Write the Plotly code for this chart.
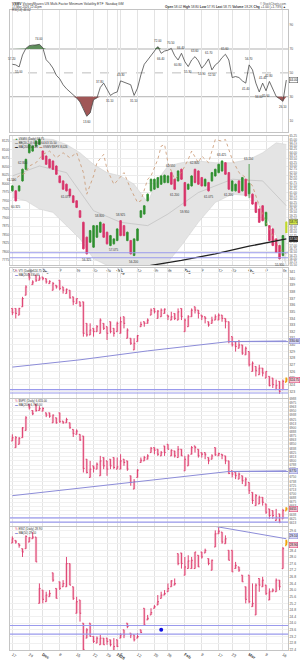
import plotly.graph_objects as go
import pandas as pd

H = 661
FONT = "Liberation Sans, Arial, sans-serif"

# ---------------- calendar / ticks ----------------
holidays = ["2025-11-27", "2025-12-25", "2026-01-01", "2026-01-19", "2026-02-16"]
dates = [d.strftime("%Y-%m-%d") for d in pd.bdate_range("2025-11-17", "2026-03-17")
         if d.strftime("%Y-%m-%d") not in holidays]
n = len(dates)
idx = list(range(n))

tick_dates = ["2025-11-17", "2025-11-24", "2025-12-01", "2025-12-08", "2025-12-15", "2025-12-22",
              "2025-12-29", "2026-01-02", "2026-01-05", "2026-01-12", "2026-01-20", "2026-01-26",
              "2026-02-02", "2026-02-09", "2026-02-17", "2026-02-23", "2026-03-02", "2026-03-09",
              "2026-03-16"]
tick_labels = ["17", "24", "<b>Dec</b>", "8", "15", "22", "29", "<b>2026</b>", "5", "12", "20", "26",
               "<b>Feb</b>", "9", "17", "23", "<b>Mar</b>", "9", "16"]
tickvals = [dates.index(d) for d in tick_dates]

# ---------------- panel 1: RSI(14) ----------------
rsi = [57.2, 56.7, 55, 65, 70.5, 72.8, 73.3, 73.3, 74, 71,
       61, 58, 54, 48, 45, 40, 36.7, 34.4, 31.7, 29,
       25.6, 20, 13.6, 16.4, 27.5, 29, 37.8, 41.4, 35.8, 31.1,
       33, 34, 43.3, 42.2, 41.4, 40, 31.1, 37.2, 48.3, 57.2,
       60.8, 64.4, 67.8, 72, 66.4, 68.3, 69, 70.5, 64.4, 60.8,
       66.4, 59.4, 55.3, 60.8, 63.6, 60, 53.9, 57.2, 61.7, 52.5,
       56.7, 58.9, 62.8, 65.6, 60.8, 46.1, 46.9, 46.1, 43.3, 41.4,
       56.7, 52.5, 41.4, 34, 41.4, 35, 42.8, 36.7, 30.3, 28.3,
       26.1, 44.0]
rsi_peaks = [0, 8, 26, 32, 43, 47, 50, 54, 58, 63, 70, 74, 76]
rsi_troughs = [2, 22, 29, 36, 44, 49, 52, 56, 59, 69, 73, 75, 80]

# ---------------- panel 2: main price ----------------
p2_open = [61.125, 61.125, 61.125, 61.875, 62.75, 64.0, 64.125, 64.5, 64.625, 64.125,
           63.75, 63.5, 63.375, 63.0, 62.25, 61.875, 61.625, 61.25, 60.75, 60.375,
           59.625, 58.75, 57.625, 57.25, 56.875, 57.625, 58.0, 58.625, 58.0, 57.0,
           57.125, 57.375, 58.875, 58.5, 57.375, 57.375, 56.25, 57.375, 59.125, 59.375,
           60.375, 61.125, 61.25, 61.375, 61.625, 61.75, 61.75, 62.5, 62.0, 61.875,
           62.75, 61.75, 61.25, 61.5, 62.75, 62.625, 62.125, 61.5, 61.75, 61.875,
           62.25, 62.5, 62.625, 63.25, 62.5, 61.125, 61.125, 61.875, 61.125, 62.0,
           60.9, 60.875, 60.25, 59.75, 60.0, 58.5, 58.5, 58.25, 57.5, 57.0,
           56.25, 58.0]
p2_close = [61.5, 60.375, 61.5, 62.75, 63.5, 64.625, 64.5, 64.875, 65.0, 63.5,
            63.125, 62.875, 62.75, 62.375, 61.75, 61.25, 61.125, 60.75, 60.25, 59.875,
            59.125, 56.75, 56.375, 58.125, 58.5, 58.5, 58.75, 57.625, 57.125, 57.75,
            57.5, 58.25, 57.75, 57.75, 58.0, 56.375, 57.5, 58.25, 59.625, 60.0,
            60.875, 62.0, 62.0, 62.125, 62.25, 62.3, 62.25, 61.625, 61.25, 62.625,
            62.0, 60.0, 61.625, 62.25, 61.75, 61.625, 61.5, 62.0, 61.125, 62.5,
            62.75, 63.125, 63.375, 62.375, 61.25, 61.875, 61.625, 61.0, 62.125, 60.75,
            61.7, 60.125, 59.5, 58.75, 58.875, 59.5, 57.375, 57.0, 56.5, 56.0,
            57.75, 58.75]
p2_high = [61.55, 61.175, 61.55, 62.8, 63.55, 64.675, 64.55, 64.925, 65.05, 64.175,
           63.8, 63.55, 63.425, 63.05, 62.3, 61.925, 61.675, 61.3, 60.8, 60.425,
           59.675, 58.8, 57.675, 58.175, 58.55, 58.55, 58.8, 58.675, 58.05, 57.8,
           57.55, 58.3, 58.925, 58.55, 58.05, 57.425, 57.55, 58.3, 59.675, 60.05,
           60.925, 62.05, 62.05, 62.175, 62.3, 62.35, 62.3, 62.55, 62.05, 62.675,
           62.8, 61.8, 61.675, 62.3, 62.8, 62.675, 62.175, 62.05, 61.8, 62.55,
           62.8, 63.175, 63.425, 63.3, 62.55, 61.925, 61.675, 61.925, 62.175, 62.05,
           63.15, 60.925, 60.3, 59.8, 60.05, 59.55, 58.55, 58.3, 57.55, 57.05,
           57.8, 58.8]
p2_low = [61.075, 60.325, 61.075, 61.825, 62.7, 63.95, 64.075, 64.45, 64.575, 63.45,
          63.075, 62.825, 62.7, 62.325, 61.7, 61.2, 61.075, 60.7, 60.2, 59.825,
          59.075, 56.7, 56.325, 57.2, 56.825, 57.575, 57.95, 57.575, 57.075, 56.95,
          57.075, 57.325, 57.7, 57.7, 57.325, 56.325, 56.2, 57.325, 59.075, 59.325,
          60.325, 61.075, 61.2, 61.325, 61.575, 61.7, 61.7, 61.575, 61.2, 61.825,
          61.95, 59.95, 61.2, 61.45, 61.7, 61.575, 61.45, 61.45, 61.075, 61.825,
          62.2, 62.45, 62.575, 62.325, 61.2, 61.075, 61.075, 60.95, 61.075, 60.7,
          60.575, 60.075, 59.45, 58.7, 58.825, 58.45, 57.325, 56.95, 56.45, 55.95,
          56.2, 57.95]
p2_peaks = [0, 3, 26, 32, 47, 54, 62, 70]
p2_troughs = [1, 16, 22, 30, 36, 48, 51, 58, 64, 79]

bb_idx = [0, 4, 8, 12, 16, 20, 24, 28, 32, 36, 40, 43, 46, 50, 55, 60, 65, 70, 74, 78, 81]
bb_upper = [65.0, 65.05, 65.075, 65.0, 64.625, 64.0, 63.125, 62.5, 62.25, 61.625, 60.25,
            62.0, 63.0, 63.25, 63.375, 63.25, 63.25, 63.5, 64.0, 64.75, 64.625]
bb_lower = [60.625, 60.375, 59.75, 59.5, 58.5, 57.5, 56.0, 55.5, 55.375, 55.375, 55.25,
            55.25, 55.75, 57.0, 58.75, 60.25, 60.875, 60.75, 59.75, 57.75, 55.5]
mid_idx = [0, 8, 16, 24, 32, 40, 46, 55, 65, 74, 81]
mid_vals = [62.25, 63.0, 62.5, 59.625, 58.75, 58.5, 59.375, 61.0, 62.0, 61.875, 60.0]
br_idx = [0, 2, 4, 5, 7, 9, 11, 13, 15, 17, 19, 21, 22, 24, 25, 27, 28, 30, 31, 33,
          35, 37, 38, 40, 41, 43, 44, 45, 46, 48, 50, 52, 53, 55, 56, 58, 60, 62, 63, 65,
          67, 69, 71, 73, 75, 77, 79, 81]
br_vals = [61.875, 62.25, 62.5, 63.0, 63.25, 63.875, 64.125, 63.625, 64.0, 63.625,
           64.0, 62.5, 60.875, 62.25, 63.25, 63.875, 62.75, 61.625, 61.875, 62.5,
           61.25, 60.25, 60.375, 62.0, 62.25, 63.5, 64.5, 64.625, 63.25, 62.0,
           62.5, 63.5, 64.125, 63.25, 63.75, 63.25, 65.0, 64.875, 65.0, 63.5,
           62.5, 62.125, 61.5, 60.0, 58.75, 57.75, 56.75, 56.375]
ma2_idx = [38, 41, 50, 60, 70, 81]
ma2_vals = [55.3, 55.5, 55.875, 56.375, 56.95, 57.5]
p2_levels = [56.45, 56.08]

# ---------------- panel 3 ----------------
p3_open = [335.5, 335.5, 334.5, 335.75, 337.5, 340.75, 339.1, 340.5, 339.75, 340.25,
           340.0, 339.25, 338.25, 339.0, 339.75, 338.75, 337.75, 338.25, 337.25, 336.25,
           336.5, 336.5, 333.25, 331.5, 332.5, 332.0, 331.75, 333.25, 332.75, 333.5,
           332.5, 332.0, 331.75, 334.25, 331.0, 331.0, 329.25, 330.5, 332.75, 333.5,
           333.25, 334.5, 335.5, 334.0, 334.25, 334.75, 334.5, 333.75, 334.75, 333.75,
           335.5, 332.0, 332.75, 334.25, 335.75, 335.25, 334.5, 334.25, 333.5, 333.25,
           333.75, 333.75, 334.5, 334.0, 333.5, 331.25, 330.5, 329.5, 330.0, 328.5,
           329.0, 326.0, 326.75, 325.5, 326.5, 325.0, 325.25, 325.0, 323.25, 324.5,
           323.25, 324.4]
p3_high = [335.5, 335.5, 335.6, 337.25, 339.0, 340.75, 339.75, 340.5, 340.5, 340.25,
           340.0, 339.75, 339.5, 339.0, 339.75, 338.75, 338.5, 338.25, 337.25, 337.0,
           336.5, 336.5, 333.25, 333.25, 332.5, 333.0, 334.0, 333.25, 332.75, 333.5,
           332.5, 333.5, 334.25, 334.25, 332.5, 331.0, 331.0, 331.5, 333.5, 333.5,
           334.0, 335.5, 335.5, 335.25, 335.5, 335.5, 334.5, 335.0, 334.75, 335.5,
           335.5, 334.0, 334.5, 335.5, 335.75, 335.25, 334.5, 334.25, 333.5, 334.25,
           334.6, 334.75, 334.5, 334.0, 333.5, 331.25, 330.5, 330.75, 330.0, 329.75,
           329.0, 327.5, 326.75, 327.0, 326.5, 326.0, 325.25, 325.0, 324.75, 324.5,
           324.75, 325.1]
p3_low = [334.5, 334.0, 334.5, 335.75, 337.5, 339.75, 339.1, 339.5, 339.75, 339.75,
          339.25, 339.25, 338.25, 338.5, 338.25, 337.75, 337.75, 337.0, 336.0, 336.25,
          335.75, 331.25, 331.25, 331.5, 331.25, 332.0, 331.75, 332.25, 330.75, 331.75,
          331.25, 332.0, 331.75, 332.5, 331.0, 330.0, 329.25, 330.5, 332.75, 332.75,
          333.25, 334.5, 334.75, 334.0, 334.25, 334.75, 333.75, 333.75, 333.75, 333.75,
          333.75, 332.0, 332.75, 334.25, 334.75, 334.0, 333.75, 333.25, 332.75, 333.25,
          333.75, 333.75, 333.5, 332.5, 330.25, 329.75, 329.0, 329.5, 328.5, 328.5,
          326.75, 326.0, 325.25, 325.5, 325.25, 325.0, 323.75, 323.5, 323.25, 322.6,
          323.25, 324.4]
p3_close = [334.85, 334.75, 335.5, 337.0, 338.75, 340.1, 339.5, 339.75, 340.1, 340.0,
            339.5, 339.6, 339.25, 338.75, 338.5, 338.25, 338.4, 337.1, 336.5, 337.0,
            335.9, 331.75, 331.5, 332.25, 332.0, 332.75, 333.75, 332.5, 331.75, 332.0,
            331.75, 333.25, 333.5, 333.25, 332.25, 330.25, 330.25, 331.4, 333.1, 333.25,
            333.75, 335.25, 335.0, 335.1, 335.25, 335.4, 334.25, 334.25, 334.0, 335.0,
            334.25, 333.75, 334.25, 335.25, 335.25, 334.75, 334.25, 334.0, 333.0, 333.75,
            334.25, 334.5, 334.0, 333.5, 330.5, 330.0, 329.75, 330.0, 328.75, 329.5,
            327.0, 327.25, 326.1, 326.5, 325.75, 326.0, 323.85, 324.0, 323.9, 323.0,
            324.5, 324.75]
ma3_idx = [0, 20, 40, 64, 81]
ma3_vals = [326.65, 327.75, 329.1, 330.5, 330.6]
p3_levels = [323.25, 322.75]

# ---------------- panel 4 ----------------
p4_open = [6860, 6840, 6850, 6870, 6892, 6970, 6952, 6970, 6952, 6950,
           6945, 6945, 6915, 6930, 6945, 6920, 6915, 6915, 6895, 6880,
           6880, 6875, 6805, 6750, 6785, 6775, 6755, 6810, 6800, 6805,
           6810, 6775, 6775, 6805, 6800, 6755, 6715, 6750, 6795, 6800,
           6805, 6825, 6840, 6835, 6815, 6845, 6850, 6815, 6830, 6810,
           6835, 6770, 6785, 6820, 6845, 6835, 6825, 6825, 6810, 6805,
           6840, 6815, 6820, 6815, 6800, 6770, 6765, 6745, 6755, 6725,
           6735, 6705, 6665, 6670, 6690, 6670, 6655, 6650, 6620, 6640,
           6625, 6650]
p4_high = [6880, 6875, 6872, 6902, 6935, 6970, 6952, 6970, 6965, 6962,
           6945, 6945, 6940, 6930, 6945, 6920, 6930, 6915, 6895, 6895,
           6880, 6875, 6805, 6800, 6785, 6795, 6815, 6810, 6800, 6805,
           6810, 6810, 6820, 6805, 6800, 6755, 6745, 6775, 6810, 6815,
           6820, 6842, 6840, 6835, 6830, 6845, 6850, 6835, 6830, 6845,
           6835, 6815, 6820, 6845, 6845, 6835, 6825, 6825, 6810, 6820,
           6840, 6825, 6820, 6815, 6800, 6770, 6765, 6765, 6755, 6750,
           6735, 6705, 6700, 6695, 6690, 6670, 6655, 6650, 6655, 6640,
           6655, 6660]
p4_low = [6860, 6840, 6850, 6870, 6892, 6955, 6938, 6948, 6952, 6950,
          6932, 6930, 6915, 6912, 6915, 6912, 6915, 6897, 6872, 6880,
          6860, 6765, 6762, 6750, 6765, 6775, 6755, 6775, 6755, 6775,
          6775, 6775, 6775, 6785, 6770, 6725, 6715, 6750, 6795, 6800,
          6805, 6825, 6820, 6815, 6815, 6815, 6835, 6815, 6810, 6810,
          6815, 6770, 6785, 6820, 6825, 6810, 6810, 6805, 6790, 6805,
          6815, 6815, 6805, 6790, 6760, 6750, 6745, 6745, 6730, 6725,
          6700, 6670, 6665, 6670, 6665, 6640, 6625, 6625, 6620, 6612,
          6625, 6650]
p4_close = [6870, 6870, 6868, 6900, 6930, 6960, 6942, 6952, 6958, 6958,
            6938, 6935, 6938, 6915, 6918, 6915, 6925, 6900, 6882, 6890,
            6863, 6777, 6765, 6775, 6778, 6790, 6800, 6785, 6775, 6785,
            6780, 6782, 6800, 6795, 6775, 6735, 6738, 6772, 6802, 6810,
            6815, 6838, 6832, 6820, 6825, 6825, 6835, 6832, 6815, 6835,
            6815, 6805, 6815, 6840, 6840, 6815, 6820, 6818, 6800, 6815,
            6818, 6822, 6817, 6800, 6762, 6760, 6755, 6760, 6740, 6745,
            6710, 6680, 6695, 6690, 6675, 6645, 6635, 6635, 6630, 6615,
            6650, 6655]
ma4_idx = [0, 20, 40, 64, 81]
ma4_vals = [6695, 6718, 6742, 6768, 6770]
p4_levels = [6628, 6615]

# ---------------- panel 5 ----------------
p5_open = [28.84, 29.0, 28.8, 28.5, 28.5, 28.9, 29.1, 29.2, 25.2, 26.0,
           25.3, 25.6, 27.04, 26.1, 26.5, 26.2, 26.2, 27.6, 26.2, 24.6,
           25.4, 24.0, 23.1, 24.0, 23.2, 22.8, 22.7, 23.1, 23.1, 23.0,
           22.3, 23.0, 23.1, 23.6, 24.0, 23.4, 23.3, 23.1, 23.6, 24.9,
           24.2, 24.5, 24.9, 25.1, 25.5, 25.7, 25.9, 26.2, 26.3, 28.2,
           28.24, 26.9, 27.3, 27.3, 27.3, 28.1, 28.3, 28.24, 27.9, 27.2,
           28.6, 29.4, 29.5, 28.8, 28.4, 28.4, 27.3, 27.4, 26.9, 26.2,
           26.9, 25.0, 24.5, 26.7, 26.2, 26.3, 25.4, 25.9, 25.9, 26.6,
           27.3, 28.7]
p5_high = [29.24, 29.0, 28.8, 28.5, 29.3, 29.2, 29.5, 29.2, 26.4, 26.0,
           25.9, 26.0, 27.04, 26.1, 26.5, 26.6, 28.0, 27.6, 26.2, 25.6,
           25.4, 24.0, 23.7, 24.0, 23.2, 23.2, 23.3, 23.1, 23.1, 23.0,
           23.1, 23.0, 23.4, 23.6, 24.0, 23.4, 23.3, 23.4, 23.6, 24.9,
           24.5, 24.9, 25.1, 25.7, 25.9, 26.0, 26.4, 26.6, 26.7, 28.2,
           28.24, 28.0, 28.1, 28.0, 28.3, 28.1, 28.3, 28.5, 27.9, 27.84,
           29.6, 29.8, 29.5, 29.3, 28.4, 28.4, 27.7, 27.4, 26.9, 26.2,
           26.9, 26.4, 26.4, 26.7, 26.8, 26.3, 26.1, 26.1, 26.7, 26.6,
           28.6, 29.04]
p5_low = [28.84, 28.8, 28.56, 28.0, 28.5, 28.9, 29.1, 27.7, 25.2, 25.2,
          25.3, 25.6, 26.5, 25.5, 26.0, 26.2, 26.2, 26.3, 25.4, 24.6,
          24.1, 22.2, 23.1, 23.2, 22.8, 22.8, 22.7, 22.7, 22.7, 22.6,
          22.3, 22.56, 23.1, 23.1, 23.7, 23.1, 22.9, 23.1, 23.4, 23.9,
          24.2, 24.5, 24.9, 25.1, 25.5, 25.7, 25.9, 26.2, 26.3, 27.5,
          27.3, 26.9, 27.3, 27.3, 27.3, 27.4, 27.9, 28.24, 27.5, 27.2,
          28.6, 29.4, 28.8, 28.8, 27.8, 27.1, 27.3, 27.1, 26.5, 25.2,
          25.2, 25.0, 24.5, 25.9, 26.2, 25.7, 25.4, 25.9, 25.9, 26.0,
          27.3, 28.7]
p5_close = [29.1, 28.9, 28.7, 28.3, 29.24, 29.16, 29.2, 27.7, 26.1, 25.44,
            25.7, 25.8, 26.6, 25.5, 26.1, 26.4, 27.6, 26.3, 25.5, 25.3,
            24.6, 22.4, 23.6, 23.2, 22.9, 23.1, 23.1, 22.7, 22.9, 22.7,
            22.6, 22.6, 23.3, 23.3, 23.8, 23.3, 23.0, 23.2, 23.44, 23.9,
            24.3, 24.64, 25.0, 25.3, 25.7, 25.8, 26.1, 26.56, 26.4, 27.6,
            27.6, 27.4, 27.76, 27.8, 28.3, 27.4, 28.0, 28.4, 27.6, 27.8,
            29.4, 29.56, 28.9, 29.1, 27.8, 27.1, 27.5, 27.2, 26.5, 25.44,
            25.3, 25.2, 26.3, 26.3, 26.6, 25.8, 25.9, 26.0, 26.6, 26.2,
            28.5, 28.9]
ma5_idx = [57, 60, 70, 81]
ma5_vals = [29.95, 29.84, 29.5, 29.1]
p5_levels = [23.86, 23.34]
p5_dot_idx = [44]
p5_dot_val = [23.6]

# ---------------- styles ----------------
GREEN = "#2f8f2f"
RED = "#d8336a"
PINK_LINE = "#dc3a6c"
PINK_BODY = "#f4bccb"
BLUE = "#9a9aec"
MA_BLUE = "#8c8cd8"
LAST_ORANGE = "#f0a30a"
P2_RANGE = [55.5, 65.25]


def ypx(px):
    return 1 - px / H


domains = {1: (8, 131), 2: (135, 265), 3: (268, 398), 4: (399, 527), 5: (528, 652)}

fig = go.Figure()

# ---- Panel 1 ----
fig.add_trace(go.Scatter(x=idx, y=[70] * n, mode="lines", line=dict(width=0),
                         xaxis="x", yaxis="y", hoverinfo="skip", showlegend=False))
fig.add_trace(go.Scatter(x=idx, y=[max(v, 70) for v in rsi], mode="lines", line=dict(width=0),
                         fill="tonexty", fillcolor="#5f8f5c", xaxis="x", yaxis="y",
                         hoverinfo="skip", showlegend=False))
fig.add_trace(go.Scatter(x=idx, y=[30] * n, mode="lines", line=dict(width=0),
                         xaxis="x", yaxis="y", hoverinfo="skip", showlegend=False))
fig.add_trace(go.Scatter(x=idx, y=[min(v, 30) for v in rsi], mode="lines", line=dict(width=0),
                         fill="tonexty", fillcolor="#a05656", xaxis="x", yaxis="y",
                         hoverinfo="skip", showlegend=False))
fig.add_trace(go.Scatter(x=idx, y=rsi, mode="lines", line=dict(color="#4a4a4a", width=0.8),
                         xaxis="x", yaxis="y", showlegend=False))

# ---- Panel 2 (band on base axis y2, marks on overlay y7 so they sit on top) ----
fig.add_trace(go.Scatter(x=bb_idx, y=bb_lower, mode="lines", line=dict(color="#cfcfcf", width=0.5),
                         xaxis="x2", yaxis="y2", showlegend=False, hoverinfo="skip"))
fig.add_trace(go.Scatter(x=bb_idx, y=bb_upper, mode="lines", line=dict(color="#cfcfcf", width=0.5),
                         fill="tonexty", fillcolor="#e4e4e4",
                         xaxis="x2", yaxis="y2", showlegend=False, hoverinfo="skip"))
fig.add_trace(go.Scatter(x=mid_idx, y=mid_vals, mode="lines", line=dict(color="#b8b8b8", width=0.6),
                         xaxis="x2", yaxis="y2", showlegend=False, hoverinfo="skip"))
# invisible trace for the left scale of panel 2
fig.add_trace(go.Scatter(x=[0], y=[7950], mode="markers", marker=dict(opacity=0),
                         xaxis="x2", yaxis="y6", showlegend=False, hoverinfo="skip"))
fig.add_trace(go.Scatter(x=br_idx, y=br_vals, mode="lines",
                         line=dict(color="#c9966f", width=0.8, dash="dot"),
                         xaxis="x2", yaxis="y7", showlegend=False, hoverinfo="skip"))
fig.add_trace(go.Scatter(x=ma2_idx, y=ma2_vals, mode="lines", line=dict(color="#222222", width=1.3),
                         xaxis="x2", yaxis="y7", showlegend=False, hoverinfo="skip"))
fig.add_trace(go.Candlestick(x=idx, open=p2_open[:-1] + [None], high=p2_high[:-1] + [None],
                             low=p2_low[:-1] + [None], close=p2_close[:-1] + [None],
                             xaxis="x2", yaxis="y7", whiskerwidth=0,
                             increasing=dict(line=dict(color=GREEN, width=0.8), fillcolor=GREEN),
                             decreasing=dict(line=dict(color=RED, width=0.8), fillcolor=RED),
                             showlegend=False, hoverinfo="skip"))
fig.add_trace(go.Ohlc(x=idx[-1:], open=p2_open[-1:], high=p2_high[-1:], low=p2_low[-1:],
                      close=p2_close[-1:], xaxis="x2", yaxis="y7", tickwidth=0.2,
                      increasing=dict(line=dict(color="#c2d92a", width=2.2)),
                      decreasing=dict(line=dict(color="#c2d92a", width=2.2)),
                      showlegend=False, hoverinfo="skip"))


def pink_panel(k, o, h, l, c, ma_idx, ma_vals):
    xa, ya = f"x{k}", f"y{k}"
    fig.add_trace(go.Scatter(x=ma_idx, y=ma_vals, mode="lines", line=dict(color=MA_BLUE, width=1),
                             xaxis=xa, yaxis=ya, showlegend=False, hoverinfo="skip"))
    fig.add_trace(go.Candlestick(x=idx[:-1], open=o[:-1], high=h[:-1], low=l[:-1], close=c[:-1],
                                 xaxis=xa, yaxis=ya, whiskerwidth=0,
                                 increasing=dict(line=dict(color=PINK_BODY, width=0.5), fillcolor=PINK_BODY),
                                 decreasing=dict(line=dict(color=PINK_BODY, width=0.5), fillcolor=PINK_BODY),
                                 showlegend=False, hoverinfo="skip"))
    fig.add_trace(go.Ohlc(x=idx[:-1], open=o[:-1], high=h[:-1], low=l[:-1], close=c[:-1],
                          xaxis=xa, yaxis=ya, tickwidth=0.35,
                          increasing=dict(line=dict(color=PINK_LINE, width=0.9)),
                          decreasing=dict(line=dict(color=PINK_LINE, width=0.9)),
                          showlegend=False, hoverinfo="skip"))
    fig.add_trace(go.Ohlc(x=idx[-1:], open=o[-1:], high=h[-1:], low=l[-1:], close=c[-1:],
                          xaxis=xa, yaxis=ya, tickwidth=0.35,
                          increasing=dict(line=dict(color=LAST_ORANGE, width=1.8)),
                          decreasing=dict(line=dict(color=LAST_ORANGE, width=1.8)),
                          showlegend=False, hoverinfo="skip"))


pink_panel(3, p3_open, p3_high, p3_low, p3_close, ma3_idx, ma3_vals)
pink_panel(4, p4_open, p4_high, p4_low, p4_close, ma4_idx, ma4_vals)
pink_panel(5, p5_open, p5_high, p5_low, p5_close, ma5_idx, ma5_vals)
fig.add_trace(go.Scatter(x=p5_dot_idx, y=p5_dot_val, mode="markers",
                         marker=dict(color="#1010e0", size=4, symbol="circle"),
                         xaxis="x5", yaxis="y5", showlegend=False, hoverinfo="skip"))

# ---------------- shapes ----------------
shapes = []
for lvl, dash, col in [(70, "solid", "#a8a8a8"), (30, "solid", "#a8a8a8"), (50, "dash", "#b5b5b5")]:
    shapes.append(dict(type="line", xref="x domain", yref="y", x0=0, x1=1, y0=lvl, y1=lvl,
                       line=dict(color=col, width=0.9, dash=dash), layer="below"))
for k, lv in [(2, p2_levels), (3, p3_levels), (4, p4_levels), (5, p5_levels)]:
    for v in lv:
        shapes.append(dict(type="line", xref=f"x{k} domain", yref=f"y{k}", x0=0, x1=1, y0=v, y1=v,
                           line=dict(color=BLUE, width=1.1)))
shapes.append(dict(type="line", xref="x3", yref="y3", x0=ma3_idx[-2], x1=81.5, y0=ma3_vals[-2],
                   y1=ma3_vals[-2], line=dict(color=MA_BLUE, width=1)))
shapes.append(dict(type="line", xref="x4", yref="y4", x0=ma4_idx[-2], x1=81.5, y0=ma4_vals[-2],
                   y1=ma4_vals[-2], line=dict(color=MA_BLUE, width=1)))

# ---------------- annotations ----------------
ann = []


def A(x, y, text, size=3.4, color="#333333", xanchor="left", yanchor="middle",
      xref="paper", yref="paper", **kw):
    d = dict(x=x, y=y, text=text, xref=xref, yref=yref, showarrow=False,
             xanchor=xanchor, yanchor=yanchor, font=dict(size=size, color=color, family=FONT))
    d.update(kw)
    ann.append(d)


# header
A(0, ypx(2), "<b>VSMV</b> VictoryShares US Multi-Factor Minimum Volatility ETF  Nasdaq GM", size=3.4)
A(0, ypx(5.2), "17-Mar-2026 12:41pm", size=3.0)
A(0, ypx(8.4), "RSI(14) 44.02", size=3.0)
A(1, ypx(1.8), "© StockCharts.com", size=3.0, xanchor="right", color="#555")
A(1, ypx(5.2), "<b>Open</b> 58.02 <b>High</b> 58.80 <b>Low</b> 57.95 <b>Last</b> 58.75 "
               "<b>Volume</b> 18.2K <b>Chg</b> +1.00 (+1.73%)▲", size=3.2, xanchor="right")

# RSI labels
for i in rsi_peaks:
    A(i, rsi[i], f"{rsi[i]:.2f}", size=3.0, xanchor="center", yanchor="bottom",
      xref="x", yref="y", yshift=1.5)
for i in rsi_troughs:
    A(i, rsi[i], f"{rsi[i]:.2f}", size=3.0, xanchor="center", yanchor="top",
      xref="x", yref="y", yshift=-1.5)

# panel 2 labels
for i in p2_peaks:
    A(i, p2_high[i], f"{p2_high[i]:.3f}", size=3.0, xanchor="center", yanchor="bottom",
      xref="x2", yref="y2", yshift=1.5)
for i in p2_troughs:
    A(i, p2_low[i], f"{p2_low[i]:.3f}", size=3.0, xanchor="center", yanchor="top",
      xref="x2", yref="y2", yshift=-1.5)

# legends
A(0.01, ypx(138), "<span style='color:#2f8f2f'>▲</span> VSMV (Daily) 58.75", size=2.9)
A(0.01, ypx(142), "<span style='color:#999'>▬</span> BB(20,2.0) 60.06 64.63 55.50", size=2.9)
A(0.01, ypx(146), "<span style='color:#222'>▬</span> MA(200) 57.48  "
                  "<span style='color:#c48a62'>▬</span> VSMV:$SPX 8,026", size=2.9)
A(0.01, ypx(271), "<span style='color:#dc3a6c'>%</span> VTI (Daily) 324.75", size=2.9)
A(0.01, ypx(275), "<span style='color:#8c8cd8'>▬</span> MA(200) 330.60", size=2.9)
A(0.01, ypx(401.5), "<span style='color:#dc3a6c'>%</span> $SPX (Daily) 6,655.00", size=2.9)
A(0.01, ypx(405.5), "<span style='color:#8c8cd8'>▬</span> MA(200) 6,768.00", size=2.9)
A(0.01, ypx(530.5), "<span style='color:#dc3a6c'>%</span> EWZ (Daily) 28.90", size=2.9)
A(0.01, ypx(534.5), "<span style='color:#8c8cd8'>▬</span> MA(50) 29.10", size=2.9)


def box(yref, y, text, bg, fg="#111", border="#777", yshift=0):
    A(1, y, text, size=3.0, color=fg, xanchor="left", yref=yref, bgcolor=bg,
      bordercolor=border, borderwidth=0.5, borderpad=0.3, xshift=0.5, yshift=yshift)


box("y", rsi[-1], f"{rsi[-1]:.2f}", "#ffffff", border="#444")
box("y2", p2_close[-1], f"{p2_close[-1]:.2f}", "#d4e84a")
box("y2", ma2_vals[-1], f"{ma2_vals[-1]:.2f}", "#222222", fg="#ffffff", border="#222")
box("y3", ma3_vals[-1], f"{ma3_vals[-1]:.2f}", "#d6d6f6", border="#8c8cd8")
box("y3", p3_close[-1], f"{p3_close[-1]:.2f}", "#f8c9d6", border="#dc3a6c")
box("y4", ma4_vals[-1], f"{ma4_vals[-1]:.0f}", "#d6d6f6", border="#8c8cd8")
box("y4", p4_close[-1], f"{p4_close[-1]:.0f}", "#f8c9d6", border="#dc3a6c")
box("y5", ma5_vals[-1], f"{ma5_vals[-1]:.2f}", "#d6d6f6", border="#8c8cd8", yshift=2.5)
box("y5", p5_close[-1], f"{p5_close[-1]:.2f}", "#f8c9d6", border="#dc3a6c", yshift=-2.5)

# ---------------- layout ----------------
layout = dict(width=300, height=H, margin=dict(l=10, r=12, t=0, b=0),
              paper_bgcolor="white", plot_bgcolor="white", showlegend=False,
              font=dict(family=FONT, size=4, color="#333"),
              shapes=shapes, annotations=ann, hovermode=False)

for k in range(1, 6):
    key = "xaxis" if k == 1 else f"xaxis{k}"
    d = dict(domain=[0, 1], range=[-0.7, 81.5], anchor="y" if k == 1 else f"y{k}",
             tickmode="array", tickvals=tickvals, ticktext=tick_labels,
             showticklabels=(k in (2, 5)), ticks="", tickfont=dict(size=4, color="#333"),
             showgrid=True, gridcolor="#e3e3e3", gridwidth=0.6, zeroline=False,
             showline=True, mirror=True, linecolor="#c4c4c4", linewidth=0.6,
             rangeslider=dict(visible=False), fixedrange=True)
    if k > 1:
        d["matches"] = "x"
    layout[key] = d


def ydom(k):
    a, b = domains[k]
    return [ypx(b), ypx(a)]


ycommon = dict(side="right", ticks="", zeroline=False, showline=True, mirror=True,
               linecolor="#c4c4c4", linewidth=0.6, tickfont=dict(size=3.4, color="#555"),
               fixedrange=True)
layout["yaxis"] = dict(ycommon, domain=ydom(1), range=[0.25, 102.75], anchor="x",
                       tickvals=[10, 30, 50, 70, 90], showgrid=False)
layout["yaxis2"] = dict(ycommon, domain=ydom(2), range=P2_RANGE, anchor="x2",
                        dtick=0.25, tick0=0, tickformat=".2f", showgrid=False,
                        tickfont=dict(size=3.0, color="#555"))
layout["yaxis6"] = dict(overlaying="y2", side="left", range=[7760, 8140], anchor="x2",
                        dtick=25, tick0=0, showgrid=True, gridcolor="#ececec", gridwidth=0.6,
                        zeroline=False, ticks="", tickfont=dict(size=3.2, color="#555"),
                        showline=False, fixedrange=True)
layout["yaxis7"] = dict(overlaying="y2", side="right", range=P2_RANGE, anchor="x2",
                        showticklabels=False, showgrid=False, zeroline=False, ticks="",
                        showline=False, fixedrange=True)
layout["yaxis3"] = dict(ycommon, domain=ydom(3), range=[322.05, 341.55], anchor="x3",
                        dtick=1, tick0=0, showgrid=True, gridcolor="#f0f0f0", gridwidth=0.6)
layout["yaxis4"] = dict(ycommon, domain=ydom(4), range=[6604, 6988], anchor="x4",
                        dtick=12.5, tick0=0, tickformat=".0f", showgrid=True, gridcolor="#f0f0f0",
                        gridwidth=0.6, tickfont=dict(size=3.0, color="#555"))
layout["yaxis5"] = dict(ycommon, domain=ydom(5), range=[22.38, 29.82], anchor="x5",
                        dtick=0.4, tick0=0, tickformat=".1f", showgrid=True, gridcolor="#f0f0f0",
                        gridwidth=0.6)

fig.update_layout(**layout)
fig.write_html("out.html")
